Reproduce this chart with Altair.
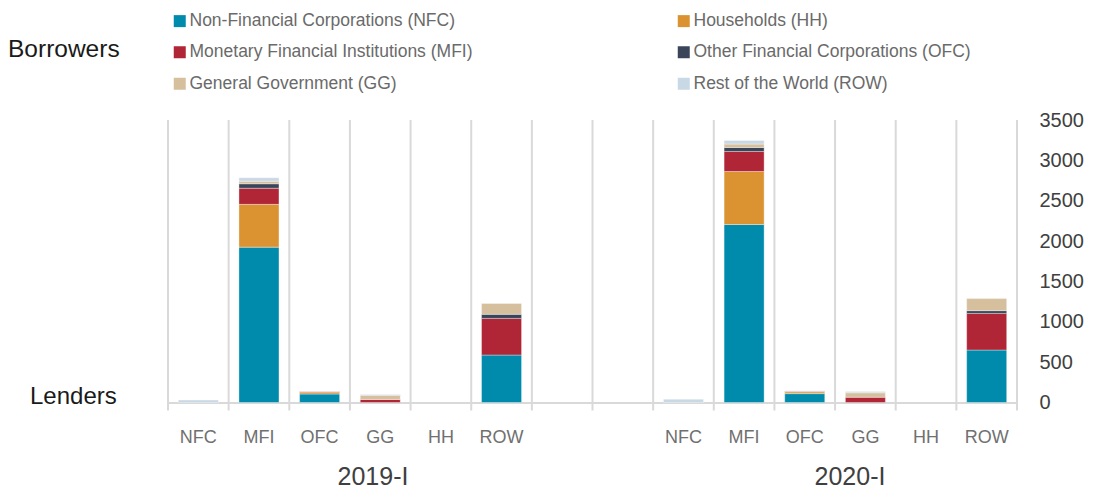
import altair as alt
import pandas as pd

# ---------------- data ----------------
periods = ["2019-I", "2020-I"]
lender_labels = ["NFC", "MFI", "OFC", "GG", "HH", "ROW"]
sectors = [
    "Non-Financial Corporations (NFC)",
    "Households (HH)",
    "Monetary Financial Institutions (MFI)",
    "Other Financial Corporations (OFC)",
    "General Government (GG)",
    "Rest of the World (ROW)",
]
sector_colors = ["#008BAD", "#DB9331", "#B12636", "#3B4559", "#D5BF9D", "#C9D8E5"]
# legend fills column by column: NFC, MFI, GG | HH, OFC, ROW
legend_order = [0, 2, 4, 1, 3, 5]

# borrower series, values per lender column [NFC, MFI, OFC, GG, HH, ROW]
nfc_2019 = [0, 1925, 105, 0, 0, 588]
hh_2019 = [0, 530, 22, 0, 0, 0]
mfi_2019 = [0, 200, 10, 38, 0, 454]
ofc_2019 = [0, 55, 0, 0, 0, 50]
gg_2019 = [0, 32, 0, 52, 0, 136]
row_2019 = [30, 42, 5, 8, 0, 0]

nfc_2020 = [0, 2205, 110, 0, 0, 650]
hh_2020 = [0, 657, 22, 0, 0, 0]
mfi_2020 = [0, 248, 8, 65, 0, 454]
ofc_2020 = [0, 50, 0, 0, 0, 34]
gg_2020 = [0, 42, 0, 55, 0, 149]
row_2020 = [40, 45, 5, 15, 0, 0]

y_ticks = [0, 500, 1000, 1500, 2000, 2500, 3000, 3500]
corner_labels = ["Borrowers", "Lenders"]

# ---------------- tables ----------------
ZW = "\u200b"  # zero-width space keeps category keys unique but invisible
slot_keys = {
    "2019-I": [l for l in lender_labels],
    "2020-I": [l + ZW for l in lender_labels],
}
gap_keys = [ZW, ZW * 2]
slots = slot_keys["2019-I"] + gap_keys + slot_keys["2020-I"]
labelled_slots = slot_keys["2019-I"] + slot_keys["2020-I"]

series_by_period = {
    "2019-I": [nfc_2019, hh_2019, mfi_2019, ofc_2019, gg_2019, row_2019],
    "2020-I": [nfc_2020, hh_2020, mfi_2020, ofc_2020, gg_2020, row_2020],
}
rows = []
for period in periods:
    for si, (sector, vals) in enumerate(zip(sectors, series_by_period[period])):
        for key, v in zip(slot_keys[period], vals):
            if v > 0:
                rows.append({"slot": key, "sector": sector, "order": si, "value": v})
df = pd.DataFrame(rows)
slot_df = pd.DataFrame({"slot": slots})
last_df = pd.DataFrame({"slot": slots[-1:]})

SANS = "Liberation Sans, Arial, sans-serif"
GRID = "#D9D9D9"
H = 282.5

x_scale = alt.Scale(domain=slots, paddingInner=0, paddingOuter=0, round=False)

bars = alt.Chart(df).mark_bar(
    width=alt.RelativeBandSize(0.66), stroke="white", strokeWidth=0.5, strokeOpacity=0.7
).encode(
    x=alt.X("slot:N", scale=x_scale, title=None, sort=slots,
            axis=alt.Axis(orient="bottom", grid=False, ticks=False, bandPosition=0.5,
                          values=labelled_slots,
                          domainColor=GRID, domainWidth=2,
                          labelAngle=0, labelFont=SANS, labelFontSize=18,
                          labelColor="#707070", labelPadding=26)),
    y=alt.Y("value:Q", title=None,
            scale=alt.Scale(domain=[0, 3500], nice=False),
            axis=alt.Axis(orient="right", values=y_ticks, grid=False, domain=False,
                          ticks=False, labelAlign="left", labelPadding=22, format="d",
                          labelFont=SANS, labelFontSize=20, labelColor="#404040")),
    color=alt.Color("sector:N",
                    scale=alt.Scale(domain=[sectors[i] for i in legend_order],
                                    range=[sector_colors[i] for i in legend_order]),
                    legend=alt.Legend(
                        title=None, orient="none", legendX=3, legendY=-108,
                        columns=2, symbolType="square", symbolSize=144,
                        symbolStrokeWidth=0, labelFont=SANS, labelFontSize=17.5,
                        labelColor="#6A6A6A", labelOffset=1, labelLimit=600,
                        rowPadding=12.5, columnPadding=202, padding=0,
                    )),
    order=alt.Order("order:Q", sort="ascending"),
)

grid_rules = alt.Chart(slot_df).mark_rule(color=GRID, strokeWidth=2).encode(
    x=alt.X("slot:N", scale=x_scale, sort=slots, bandPosition=0),
    y=alt.value(0), y2=alt.value(H + 8),
)
grid_last = alt.Chart(last_df).mark_rule(color=GRID, strokeWidth=2).encode(
    x=alt.X("slot:N", scale=x_scale, sort=slots, bandPosition=1),
    y=alt.value(0), y2=alt.value(H + 8),
)

group_df = pd.DataFrame({"t": periods})
group_2019 = alt.Chart(group_df).transform_filter(
    alt.datum.t == periods[0]
).mark_text(font=SANS, fontSize=25, color="#404040", baseline="middle").encode(
    x=alt.value(205), y=alt.value(357), text="t:N")

group_2020 = alt.Chart(group_df).transform_filter(
    alt.datum.t == periods[1]
).mark_text(font=SANS, fontSize=25, color="#404040", baseline="middle").encode(
    x=alt.value(682), y=alt.value(357), text="t:N")

corner_df = pd.DataFrame({"t": corner_labels})
borrowers = alt.Chart(corner_df).transform_filter(
    alt.datum.t == corner_labels[0]
).mark_text(align="left", baseline="middle", font=SANS, fontSize=24.5, color="#1A1A1A").encode(
    x=alt.value(-160), y=alt.value(-70), text="t:N")

lenders = alt.Chart(corner_df).transform_filter(
    alt.datum.t == corner_labels[1]
).mark_text(align="left", baseline="middle", font=SANS, fontSize=24, color="#1A1A1A").encode(
    x=alt.value(-138), y=alt.value(277), text="t:N")

chart = alt.layer(bars, grid_rules, grid_last, group_2019, group_2020,
                  borrowers, lenders).properties(
    width=849, height=H,
    autosize=alt.AutoSizeParams(type="none"),
    padding={"left": 160, "top": 112, "right": 69, "bottom": 88},
).configure_view(stroke=None)

chart.save("out.html", embed_options={"renderer": "svg", "actions": False})
